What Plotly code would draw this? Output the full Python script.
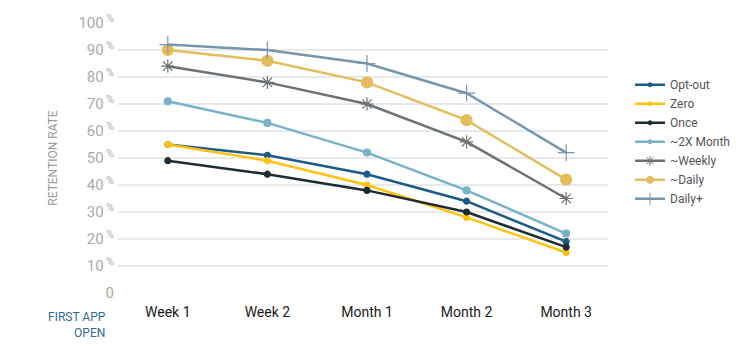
import plotly.graph_objects as go

categories = ["Week 1", "Week 2", "Month 1", "Month 2", "Month 3"]
series_names = ["Opt-out", "Zero", "Once", "~2X Month", "~Weekly", "~Daily", "Daily+"]
opt_out = [55, 51, 44, 34, 19]
zero = [55, 49, 40, 28, 15]
once = [49, 44, 38, 30, 17]
twox_month = [71, 63, 52, 38, 22]
weekly = [84, 78, 70, 56, 35]
daily = [90, 86, 78, 64, 42]
daily_plus = [92, 90, 85, 74, 52]
y_ticks = [0, 10, 20, 30, 40, 50, 60, 70, 80, 90, 100]

values = [opt_out, zero, once, twox_month, weekly, daily, daily_plus]
colors = ["#1d5b87", "#ffc20e", "#1e2b33", "#78b2c8", "#6b7175", "#e3bd5c", "#7895ad"]
symbols = ["circle", "circle", "circle", "circle", "asterisk-open", "circle", "cross-thin-open"]
sizes = [6, 6, 6, 7, 11, 11, 12]
legend_sizes = [4, 4, 4, 4, 8, 7, 9]

fig = go.Figure()
for name, vals, c, s, sz in zip(series_names, values, colors, symbols, sizes):
    fig.add_trace(go.Scatter(
        x=categories, y=vals, name=name, mode="lines+markers", showlegend=False,
        line=dict(color=c, width=2.5),
        marker=dict(symbol=s, size=sz, color=c, line=dict(color=c, width=1.2)),
    ))
# legend entries with smaller symbols, as in the reference
for name, c, s, sz in zip(series_names, colors, symbols, legend_sizes):
    fig.add_trace(go.Scatter(
        x=[None], y=[None], name=name, mode="lines+markers", showlegend=True,
        line=dict(color=c, width=2.5),
        marker=dict(symbol=s, size=sz, color=c, line=dict(color=c, width=1)),
    ))

ticktext = [("0" if v == 0 else f"{v}<sup> %</sup>") for v in y_ticks]

fig.update_layout(
    width=750, height=346,
    margin=dict(l=118, r=142, t=18, b=53),
    paper_bgcolor="white", plot_bgcolor="white",
    font=dict(family="Roboto", color="#555"),
    showlegend=True,
    legend=dict(x=1.045, y=0.825, xanchor="left", yanchor="top",
                font=dict(size=12, color="#555"), itemwidth=30, tracegroupgap=0,
                bgcolor="rgba(0,0,0,0)"),
    xaxis=dict(type="category", range=[-0.5, 4.42], showgrid=False, zeroline=False,
               showline=False, ticks="outside", ticklen=6, tickcolor="rgba(0,0,0,0)",
               tickfont=dict(size=14, color="#1a1a1a", family="Roboto")),
    yaxis=dict(range=[0, 100], tickvals=y_ticks, ticktext=ticktext,
               showgrid=True, gridcolor="#e6eaec", gridwidth=1.5, zeroline=False,
               showline=False, ticks="outside", ticklen=0, tickcolor="rgba(0,0,0,0)",
               tickfont=dict(size=15, color="#aaaaaa"),
               title=dict(text="RETENTION RATE", font=dict(size=12, color="#999"), standoff=18)),
)
fig.add_annotation(text="FIRST APP<br>OPEN", xref="paper", yref="paper",
                   x=-0.02, y=-0.055, xanchor="right", yanchor="top", align="right",
                   showarrow=False, font=dict(size=12, color="#2f6a90"))

fig.write_html("out.html")
